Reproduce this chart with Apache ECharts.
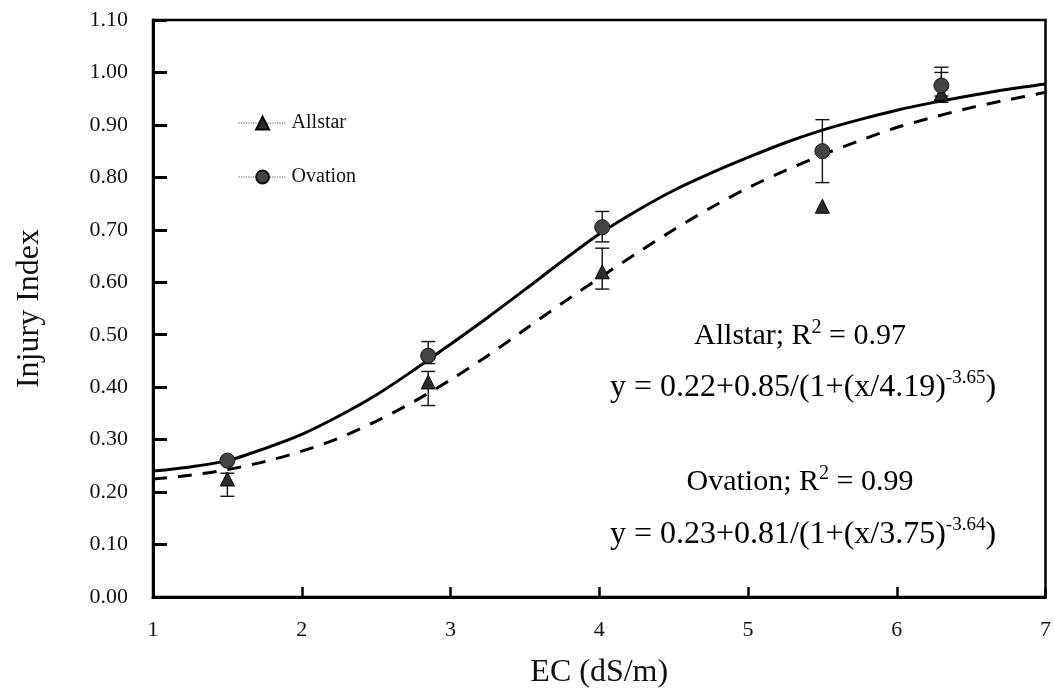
<!DOCTYPE html>
<html lang="en">
<head>
<meta charset="UTF-8" />
<title>Injury Index vs EC</title>
<style>
  html, body { margin: 0; padding: 0; background: #fff; }
  #chart { width: 1054px; height: 694px; }
</style>
</head>
<body>
<div id="chart"></div>
<script src="https://cdn.jsdelivr.net/npm/echarts@6/dist/echarts.min.js"></script>
<script>
// measured points: EC (dS/m) and injury index, with error bar ends
const pointEC = [1.5, 2.85, 4.02, 5.5, 6.3];
const allstarIndex = [0.225, 0.41, 0.62, 0.745, 0.96];
const ovationIndex = [0.26, 0.46, 0.705, 0.85, 0.975];
const allstarLow = [0.192, 0.365, 0.587, null, 0.943];
const allstarHigh = [0.236, 0.43, 0.665, null, 1.0];
const ovationLow = [null, 0.445, 0.677, 0.79, 0.955];
const ovationHigh = [null, 0.487, 0.735, 0.91, 1.01];

// fitted curves
const fitEC = [1, 1.25, 1.5, 1.75, 2, 2.25, 2.5, 2.75, 3, 3.25, 3.5, 3.75, 4,
               4.25, 4.5, 4.75, 5, 5.25, 5.5, 5.75, 6, 6.25, 6.5, 6.75, 7];
const allstarFit = [0.225, 0.232, 0.243, 0.258, 0.278, 0.303, 0.335, 0.372, 0.414, 0.46, 0.51, 0.56, 0.608,
                    0.655, 0.70, 0.742, 0.78, 0.813, 0.843, 0.87, 0.895, 0.915, 0.933, 0.948, 0.962];
const ovationFit = [0.24, 0.248, 0.26, 0.283, 0.31, 0.345, 0.385, 0.432, 0.482, 0.533, 0.586, 0.64, 0.692,
                    0.736, 0.775, 0.808, 0.838, 0.866, 0.89, 0.91, 0.928, 0.943, 0.956, 0.968, 0.978];

// axes
const xTicks = [1, 2, 3, 4, 5, 6, 7];
const yMin = 0, yMax = 1.1, yStep = 0.1;

const serif = 'Liberation Serif';

function pairs(xs, ys) {
  return xs.map((x, i) => [x, ys[i]]);
}
function bars(lo, hi) {
  return pointEC.map((x, i) => [x, lo[i], hi[i]]).filter(d => d[1] != null);
}

function errorBar(params, api) {
  const x = api.value(0);
  const lo = api.coord([x, api.value(1)]);
  const hi = api.coord([x, api.value(2)]);
  const w = 7;
  const style = { stroke: '#111', lineWidth: 1.4 };
  return {
    type: 'group',
    children: [
      { type: 'line', shape: { x1: lo[0], y1: lo[1], x2: hi[0], y2: hi[1] }, style: style },
      { type: 'line', shape: { x1: lo[0] - w, y1: lo[1], x2: lo[0] + w, y2: lo[1] }, style: style },
      { type: 'line', shape: { x1: hi[0] - w, y1: hi[1], x2: hi[0] + w, y2: hi[1] }, style: style }
    ]
  };
}

const rich = {
  m: { fontFamily: serif, fontSize: 30, lineHeight: 36, color: '#111' },
  f: { fontFamily: serif, fontSize: 32, lineHeight: 38, color: '#111' },
  r: { fontFamily: serif, fontSize: 20, lineHeight: 20, verticalAlign: 'top', color: '#111' },
  s: { fontFamily: serif, fontSize: 19, lineHeight: 19, verticalAlign: 'top', color: '#111' }
};

function note(text, x, y) {
  return {
    type: 'text', x: x, y: y, z: 10,
    style: { text: text, rich: rich, align: 'center', verticalAlign: 'middle' }
  };
}

const chart = echarts.init(document.getElementById('chart'));
chart.setOption({
  animation: false,
  backgroundColor: '#fff',
  grid: { left: 153, right: 4, top: 20, bottom: 95, show: true, borderColor: '#000', borderWidth: 2.5 },
  xAxis: {
    type: 'value', min: xTicks[0], max: xTicks[xTicks.length - 1], interval: 1,
    name: 'EC (dS/m)', nameLocation: 'middle', nameGap: 60,
    nameTextStyle: { fontFamily: serif, fontSize: 32, color: '#111' },
    axisLine: { lineStyle: { color: '#000', width: 3 } },
    axisTick: { inside: true, length: 10, lineStyle: { color: '#000', width: 2.5 } },
    axisLabel: { margin: 22, fontFamily: serif, fontSize: 22, color: '#111' },
    splitLine: { show: false }
  },
  yAxis: {
    type: 'value', min: yMin, max: yMax, interval: yStep,
    name: 'Injury Index', nameLocation: 'middle', nameGap: 107,
    nameTextStyle: { fontFamily: serif, fontSize: 32, color: '#111' },
    axisLine: { show: true, lineStyle: { color: '#000', width: 3 } },
    axisTick: { show: true, inside: true, length: 14, lineStyle: { color: '#000', width: 3 } },
    axisLabel: { margin: 25, fontFamily: serif, fontSize: 22, color: '#111', formatter: v => v.toFixed(2) },
    splitLine: { show: false }
  },
  legend: {
    orient: 'vertical', left: 233, top: 108, itemGap: 34,
    itemWidth: 48, itemHeight: 16, selectedMode: false,
    textStyle: { fontFamily: serif, fontSize: 20, color: '#111' },
    lineStyle: { type: 'dotted', width: 1.2, color: '#555', opacity: 1 },
    data: ['Allstar', 'Ovation']
  },
  graphic: [
    note('{m|Allstar; R}{r|2}{m| = 0.97}', 800, 336),
    note('{f|y = 0.22+0.85/(1+(x/4.19)}{s|-3.65}{f|)}', 803, 388),
    note('{m|Ovation; R}{r|2}{m| = 0.99}', 800, 482),
    note('{f|y = 0.23+0.81/(1+(x/3.75)}{s|-3.64}{f|)}', 803, 535)
  ],
  series: [
    {
      name: 'Allstar fit', type: 'line', data: pairs(fitEC, allstarFit),
      smooth: 0.3, showSymbol: false, z: 2,
      lineStyle: { color: '#000', width: 3, type: [14, 11] }
    },
    {
      name: 'Ovation fit', type: 'line', data: pairs(fitEC, ovationFit),
      smooth: 0.3, showSymbol: false, z: 2,
      lineStyle: { color: '#000', width: 3 }
    },
    { type: 'custom', renderItem: errorBar, data: bars(allstarLow, allstarHigh), encode: { x: 0, y: [1, 2] }, z: 3 },
    { type: 'custom', renderItem: errorBar, data: bars(ovationLow, ovationHigh), encode: { x: 0, y: [1, 2] }, z: 3 },
    {
      name: 'Allstar', type: 'line', data: pairs(pointEC, allstarIndex),
      symbol: 'triangle', symbolSize: 14, showSymbol: true, z: 4,
      lineStyle: { width: 0, opacity: 0 },
      itemStyle: { color: '#2b2b2b', borderColor: '#000', borderWidth: 1 }
    },
    {
      name: 'Ovation', type: 'line', data: pairs(pointEC, ovationIndex),
      symbol: 'circle', symbolSize: 15, showSymbol: true, z: 4,
      lineStyle: { width: 0, opacity: 0 },
      itemStyle: { color: '#444', borderColor: '#111', borderWidth: 1 }
    }
  ]
});
</script>
</body>
</html>
